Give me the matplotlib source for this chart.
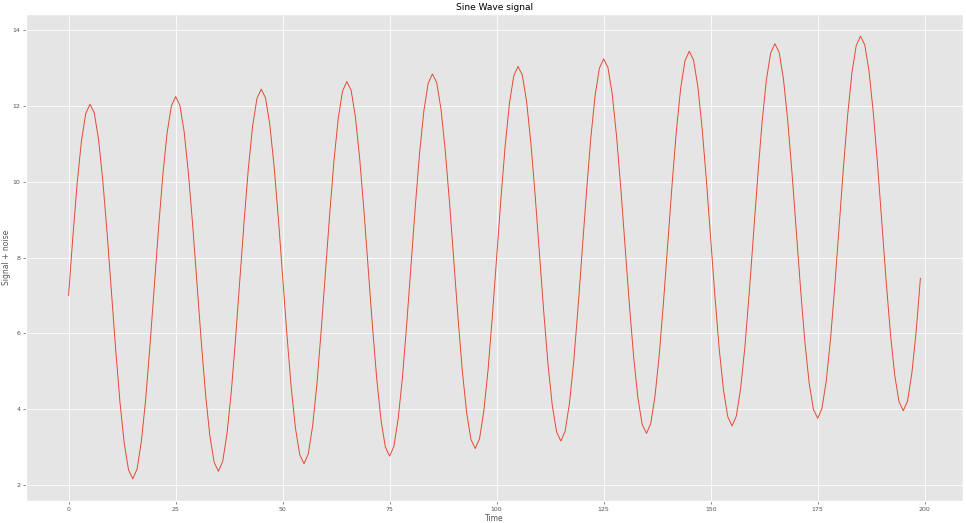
import matplotlib
matplotlib.use('Agg')
import matplotlib.pyplot as plt

plt.style.use('ggplot')

# time steps 0..199
time = list(range(200))

# signal values, one row per 20-step cycle
signal = [
    7.00, 8.55, 9.96, 11.08, 11.80, 12.05, 11.82, 11.12, 10.02, 8.64, 7.10, 5.57, 4.18, 3.09, 2.39, 2.15, 2.41, 3.14, 4.24, 5.65,
    7.20, 8.75, 10.16, 11.28, 12.00, 12.25, 12.02, 11.32, 10.22, 8.84, 7.30, 5.77, 4.38, 3.29, 2.59, 2.35, 2.61, 3.34, 4.44, 5.85,
    7.40, 8.95, 10.36, 11.48, 12.20, 12.45, 12.22, 11.52, 10.42, 9.04, 7.50, 5.97, 4.58, 3.49, 2.79, 2.55, 2.81, 3.54, 4.64, 6.05,
    7.60, 9.15, 10.56, 11.68, 12.40, 12.65, 12.42, 11.72, 10.62, 9.24, 7.70, 6.17, 4.78, 3.69, 2.99, 2.75, 3.01, 3.74, 4.84, 6.25,
    7.80, 9.35, 10.76, 11.88, 12.60, 12.85, 12.62, 11.92, 10.82, 9.44, 7.90, 6.37, 4.98, 3.89, 3.19, 2.95, 3.21, 3.94, 5.04, 6.45,
    8.00, 9.55, 10.96, 12.08, 12.80, 13.05, 12.82, 12.12, 11.02, 9.64, 8.10, 6.57, 5.18, 4.09, 3.39, 3.15, 3.41, 4.14, 5.24, 6.65,
    8.20, 9.75, 11.16, 12.28, 13.00, 13.25, 13.02, 12.32, 11.22, 9.84, 8.30, 6.77, 5.38, 4.29, 3.59, 3.35, 3.61, 4.34, 5.44, 6.85,
    8.40, 9.95, 11.36, 12.48, 13.20, 13.45, 13.22, 12.52, 11.42, 10.04, 8.50, 6.97, 5.58, 4.49, 3.79, 3.55, 3.81, 4.54, 5.64, 7.05,
    8.60, 10.15, 11.56, 12.68, 13.40, 13.65, 13.42, 12.72, 11.62, 10.24, 8.70, 7.17, 5.78, 4.69, 3.99, 3.75, 4.01, 4.74, 5.84, 7.25,
    8.80, 10.35, 11.76, 12.88, 13.60, 13.85, 13.62, 12.92, 11.82, 10.44, 8.90, 7.37, 5.98, 4.89, 4.19, 3.95, 4.21, 4.94, 6.04, 7.45,
]

fig = plt.figure(figsize=(9.66, 5.23), dpi=100)
ax = fig.add_axes([26/966, 1 - 501/523, (963-26)/966, (501-14)/523])

ax.plot(time, signal, color='#E24A33', linewidth=0.7)
ax.grid(True, color='white', linewidth=0.6)
ax.set_title('Sine Wave signal', fontsize=6.5, pad=3)
ax.set_xlabel('Time', fontsize=5.5, labelpad=2)
ax.set_ylabel('Signal + noise', fontsize=5.5)
ax.yaxis.set_label_coords(-0.016, 0.5)
ax.tick_params(labelsize=4.5, length=2, pad=2, width=0.5)

fig.savefig('out.png', dpi=100)
